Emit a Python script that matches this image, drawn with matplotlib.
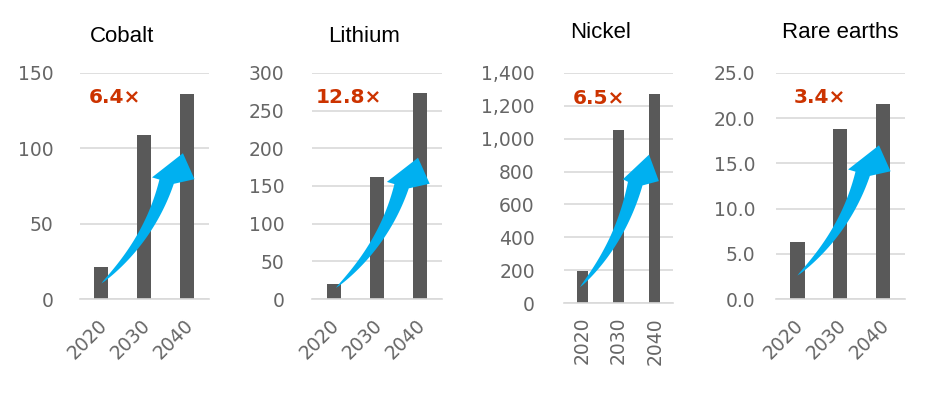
import numpy as np
import matplotlib.pyplot as plt
from matplotlib.patches import Polygon
from matplotlib.ticker import FuncFormatter
from matplotlib.transforms import blended_transform_factory, ScaledTranslation

# Data
years = ['2020', '2030', '2040']
minerals = ['Cobalt', 'Lithium', 'Nickel', 'Rare earths']
cobalt = [21, 109, 136]
lithium = [20, 162, 274]
nickel = [195, 1055, 1270]
rare_earths = [6.3, 18.8, 21.6]
growth = ['6.4×', '12.8×', '6.5×', '3.4×']
y_max = [150, 300, 1400, 25]
y_step = [50, 50, 200, 5]

values = [cobalt, lithium, nickel, rare_earths]

bar_color = '#595959'
grid_color = '#d9d9d9'
tick_color = '#666666'
red = '#cc3300'
blue = '#00b0f0'

fig = plt.figure(figsize=(9.4, 4.03), dpi=100)

# axes boxes [left, bottom, width, height] in figure fraction
boxes = [
    [0.085, 0.258, 0.137, 0.561],
    [0.332, 0.258, 0.138, 0.561],
    [0.600, 0.248, 0.116, 0.571],
    [0.8255, 0.258, 0.137, 0.561],
]
label_pads = [19, 20, 21, 15]
title_xy = [(122, 36), (364, 36), (601, 33), (840, 33)]
text_x = [0.07, 0.03, 0.08, 0.14]
arrow_shift = [(0.0, 0.0), (0.05, -0.02), (-0.06, 0.0), (0.0, 0.035)]
formats = [
    lambda v, p: f'{v:.0f}',
    lambda v, p: f'{v:.0f}',
    lambda v, p: f'{v:,.0f}',
    lambda v, p: f'{v:.1f}',
]


def growth_arrow(ax, dx, dy):
    # curved, tapering arrow; points given as (category, axes fraction)
    tr = blended_transform_factory(ax.transData, ax.transAxes)
    pts = np.array([
        [0.00, 0.069],  # tail
        [1.12, 0.262],  # curve control
        [1.52, 0.519],  # neck
        [1.18, 0.538],  # head left corner
        [1.90, 0.645],  # head tip
        [2.17, 0.530],  # head right corner
    ]) + [dx, dy]
    d = tr.transform(pts)
    tail, ctrl, neck, hl, tip, hr = d
    t = np.linspace(0, 1, 40)[:, None]
    curve = (1 - t) ** 2 * tail + 2 * (1 - t) * t * ctrl + t ** 2 * neck
    deriv = 2 * (1 - t) * (ctrl - tail) + 2 * t * (neck - ctrl)
    nrm = np.column_stack([-deriv[:, 1], deriv[:, 0]])
    nrm /= np.linalg.norm(nrm, axis=1)[:, None]
    half = 7.5 * t ** 0.7
    left = curve + nrm * half
    right = curve - nrm * half
    poly = np.vstack([left, [hl, tip, hr], right[::-1]])
    poly = ax.transData.inverted().transform(poly)
    ax.add_patch(Polygon(poly, closed=True, facecolor=blue,
                         edgecolor='none', zorder=3))


for i, name in enumerate(minerals):
    ax = fig.add_axes(boxes[i])
    x = range(len(years))
    width = 0.3 if i == 2 else 0.33
    ax.bar(x, values[i], width=width, color=bar_color, zorder=2)
    ax.set_xlim(-0.5, 2.5)
    ax.set_ylim(0, y_max[i])
    ax.set_yticks([k * y_step[i] for k in range(int(y_max[i] / y_step[i]) + 1)])
    ax.yaxis.set_major_formatter(FuncFormatter(formats[i]))
    ax.grid(axis='y', color=grid_color, linewidth=1.2, zorder=0)
    for s in ['top', 'right', 'left']:
        ax.spines[s].set_visible(False)
    ax.spines['bottom'].set_color(grid_color)
    ax.spines['bottom'].set_linewidth(1.2)
    ax.tick_params(axis='both', length=0, labelsize=13.5, colors=tick_color)
    ax.tick_params(axis='y', pad=label_pads[i])
    ax.set_xticks(list(x))
    if i == 2:
        ax.set_xticklabels(years, rotation=90, ha='center', va='top')
        ax.tick_params(axis='x', pad=10)
    else:
        ax.set_xticklabels(years, rotation=45, ha='right', va='top',
                           rotation_mode='anchor')
        ax.tick_params(axis='x', pad=12)
        shift = ScaledTranslation(-0.04, 0, fig.dpi_scale_trans)
        for lab in ax.get_xticklabels():
            lab.set_transform(lab.get_transform() + shift)

    fig.text(title_xy[i][0] / 940, 1 - title_xy[i][1] / 403, name,
             ha='center', va='center', fontsize=16,
             family='Liberation Sans', color='black')

    ax.text(text_x[i], 0.89, growth[i], transform=ax.transAxes,
            ha='left', va='center', fontsize=14.5, fontweight='bold',
            color=red)

    growth_arrow(ax, *arrow_shift[i])

plt.savefig('out.png', dpi=100)
